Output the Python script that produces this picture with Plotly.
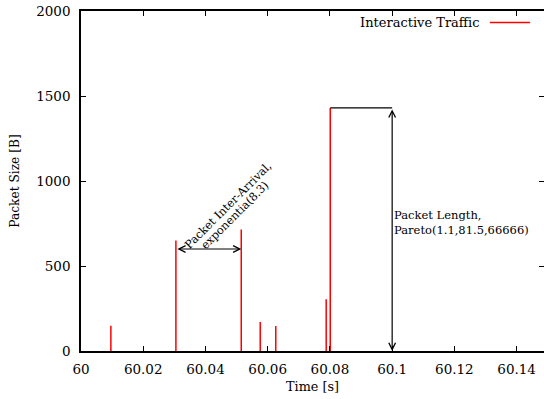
import plotly.graph_objects as go

# Packet arrival times [s] and sizes [B] for the interactive traffic trace
times = [60.0096, 60.0305, 60.0515, 60.0576, 60.0626, 60.0788, 60.0801]
sizes = [148, 650, 715, 170, 147, 305, 1430]

# Annotation values
gap_level = 600            # height of the inter-arrival arrow [B]
length_marker_x = 60.1     # x of the packet-length arrow [s]

x_ticks = [60, 60.02, 60.04, 60.06, 60.08, 60.1, 60.12, 60.14]
x_tick_labels = ["60", "60.02", "60.04", "60.06", "60.08", "60.1", "60.12", "60.14"]
y_ticks = [0, 500, 1000, 1500, 2000]
y_tick_labels = ["0", "500", "1000", "1500", "2000"]

FONT = "DejaVu Serif"
RED = "#ff0000"

# Impulse-style vertical lines: one segment per packet
xs, ys = [], []
for t, s in zip(times, sizes):
    xs += [t, t, None]
    ys += [0, s, None]

fig = go.Figure()
fig.add_trace(go.Scatter(
    x=xs, y=ys, mode="lines", name="Interactive Traffic",
    line=dict(color=RED, width=1.5), hoverinfo="skip", showlegend=False,
))
# empty trace that carries the right-hand tick axis
fig.add_trace(go.Scatter(x=[None], y=[None], yaxis="y2", showlegend=False,
                         hoverinfo="skip"))

axis_font = dict(family=FONT, size=13.5, color="black")

fig.update_layout(
    width=544, height=399,
    margin=dict(l=81, r=0, t=11, b=48),
    paper_bgcolor="white", plot_bgcolor="white",
    font=dict(family=FONT, color="black"),
    showlegend=False,
    xaxis=dict(
        range=[60, 60.1488], tickvals=x_ticks, ticktext=x_tick_labels,
        ticks="inside", ticklen=5, tickwidth=1, tickcolor="black",
        showline=True, linecolor="black", linewidth=1.5, mirror="ticks",
        showgrid=False, zeroline=False, tickfont=axis_font,
        ticklabelstandoff=5,
        title=dict(text="Time [s]", font=dict(family=FONT, size=12.8), standoff=6),
    ),
    yaxis=dict(
        range=[0, 2000], tickvals=y_ticks, ticktext=y_tick_labels,
        ticks="inside", ticklen=5, tickwidth=1, tickcolor="black",
        showline=True, linecolor="black", linewidth=1.5,
        showgrid=False, zeroline=False, tickfont=axis_font,
        ticklabelstandoff=6,
        title=dict(text="Packet Size [B]", font=dict(family=FONT, size=12.2), standoff=14),
    ),
    yaxis2=dict(
        range=[0, 2000], tickvals=y_ticks, overlaying="y", side="right",
        ticks="inside", ticklen=5, tickwidth=1, tickcolor="black",
        showticklabels=False, showline=False, showgrid=False, zeroline=False,
    ),
)

# Inter-arrival arrow between the two large packets
fig.add_annotation(
    x=times[2], y=gap_level, ax=times[1], ay=gap_level,
    xref="x", yref="y", axref="x", ayref="y",
    text="", showarrow=True, arrowside="end+start",
    arrowhead=5, startarrowhead=5, arrowsize=1.1, startarrowsize=1.1,
    arrowwidth=1.2, arrowcolor="black",
)
# Rotated two-line label, one annotation per line for tight line spacing
for text, lx, ly in [("Packet Inter-Arrival,", 60.0474, 855),
                     ("exponentia(8.3)", 60.0495, 797)]:
    fig.add_annotation(
        x=lx, y=ly, xref="x", yref="y", text=text, showarrow=False,
        textangle=-45, font=dict(family=FONT, size=11.3, color="black"),
    )

# Packet length marker for the largest packet
fig.add_shape(type="line", x0=times[6], x1=length_marker_x, y0=sizes[6], y1=sizes[6],
              xref="x", yref="y", line=dict(color="black", width=1.3))
fig.add_annotation(
    x=length_marker_x, y=0, ax=length_marker_x, ay=sizes[6],
    xref="x", yref="y", axref="x", ayref="y",
    text="", showarrow=True, arrowside="end+start",
    arrowhead=5, startarrowhead=5, arrowsize=1.1, startarrowsize=1.1,
    arrowwidth=1.2, arrowcolor="black",
)
fig.add_annotation(
    x=length_marker_x, y=755, xref="x", yref="y", xanchor="left", xshift=0,
    text="Packet Length,<br>Pareto(1.1,81.5,66666)", showarrow=False, align="left",
    font=dict(family=FONT, size=11.5, color="black"),
)

# Key: label followed by the line sample
fig.add_annotation(
    x=0.866, y=0.965, xref="paper", yref="paper", xanchor="right", yanchor="middle",
    text="Interactive Traffic", showarrow=False,
    font=dict(family=FONT, size=13, color="black"),
)
fig.add_shape(type="line", x0=0.883, x1=0.97, y0=0.966, y1=0.966,
              xref="paper", yref="paper", line=dict(color=RED, width=1.5))

fig.write_html("out.html")
